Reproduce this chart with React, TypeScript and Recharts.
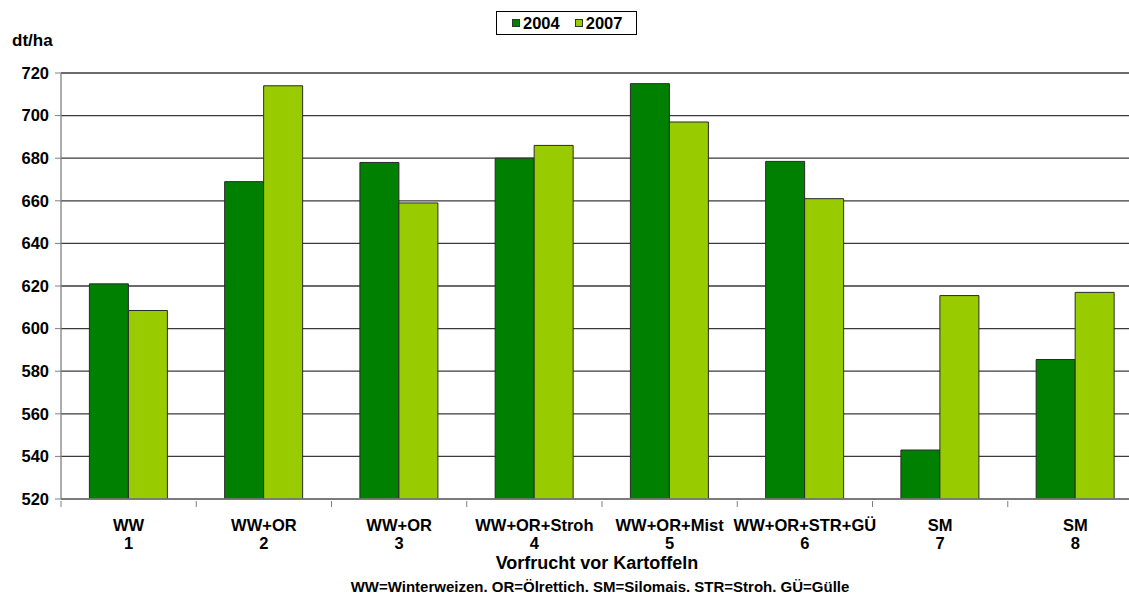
import { BarChart, Bar, XAxis, YAxis, CartesianGrid } from 'recharts'

const categories = ['WW', 'WW+OR', 'WW+OR', 'WW+OR+Stroh', 'WW+OR+Mist', 'WW+OR+STR+GÜ', 'SM', 'SM']
const numbers = ['1', '2', '3', '4', '5', '6', '7', '8']
const yield2004 = [621, 669, 678, 680, 715, 678.5, 543, 585.5]
const yield2007 = [608.5, 714, 659, 686, 697, 661, 615.5, 617]
const yTicks = [520, 540, 560, 580, 600, 620, 640, 660, 680, 700, 720]
const seriesNames = ['2004', '2007']

const FONT = "Arial, 'Liberation Sans', sans-serif"
const DARK = '#008000'
const LIGHT = '#99CC00'
const BAND = 1082 / 8

const data = categories.map((c, i) => ({
  key: i,
  name: c,
  num: numbers[i],
  y2004: yield2004[i],
  y2007: yield2007[i],
}))

const CatTick = (props: any) => {
  const { x, y, payload, index } = props
  const d = data[payload.value]
  return (
    <g>
      {index === 0 && <line x1={x - BAND / 2} x2={x - BAND / 2} y1={y} y2={y + 6} stroke="#808080" />}
      <line x1={x + BAND / 2} x2={x + BAND / 2} y1={y} y2={y + 6} stroke="#808080" />
      <text x={x} y={y + 29.5} textAnchor="middle" fontFamily={FONT} fontWeight="bold" fontSize={16.5} fill="#000">
        {d.name}
      </text>
      <text x={x} y={y + 48} textAnchor="middle" fontFamily={FONT} fontWeight="bold" fontSize={16.5} fill="#000">
        {d.num}
      </text>
    </g>
  )
}

const LegendBox = () => (
  <div
    style={{
      position: 'absolute',
      left: 496,
      top: 11,
      width: 141,
      height: 24,
      border: '1px solid #000',
      boxSizing: 'border-box',
      display: 'flex',
      alignItems: 'center',
      paddingLeft: 15,
      fontFamily: FONT,
      fontWeight: 'bold',
      fontSize: 16.5,
      background: '#fff',
    }}
  >
    {seriesNames.map((t, i) => (
      <span key={t} style={{ display: 'flex', alignItems: 'center', gap: 3, marginRight: i === 0 ? 15 : 0 }}>
        <span style={{ width: 8, height: 8, background: i === 0 ? DARK : LIGHT, border: '1px solid #333', boxSizing: 'border-box', display: 'inline-block' }} />
        {t}
      </span>
    ))}
  </div>
)

export default function App() {
  return (
    <div style={{ position: 'absolute', left: 0, top: 0, width: 1129, height: 597, overflow: 'hidden', background: '#fff' }}>
      <div style={{ position: 'absolute', left: 12, top: 31, fontFamily: FONT, fontWeight: 'bold', fontSize: 17 }}>dt/ha</div>
      <LegendBox />
      <BarChart
        width={1150}
        height={597}
        data={data}
        margin={{ top: 73, right: 7, bottom: 0, left: 0 }}
        barCategoryGap="21%"
        barGap={0}
      >
        <CartesianGrid horizontal vertical={false} stroke="#3a3a3a" strokeWidth={1.3} />
        <XAxis
          dataKey="key"
          type="category"
          tick={<CatTick />}
          tickLine={false}
          tickSize={0}
          interval={0}
          axisLine={{ stroke: '#808080', strokeWidth: 1.3 }}
          height={98}
        />
        <YAxis
          domain={[520, 720]}
          ticks={yTicks}
          interval={0}
          width={61}
          tickSize={6}
          tickMargin={6}
          allowDataOverflow
          axisLine={{ stroke: '#808080', strokeWidth: 1.3 }}
          tickLine={{ stroke: '#808080' }}
          tick={{ fontFamily: FONT, fontWeight: 'bold', fontSize: 16.5, fill: '#000' }}
        />
        <Bar dataKey="y2004" name="2004" fill={DARK} stroke="#2a2a2a" strokeWidth={1} isAnimationActive={false} />
        <Bar dataKey="y2007" name="2007" fill={LIGHT} stroke="#2a2a2a" strokeWidth={1} isAnimationActive={false} />
      </BarChart>
      <div style={{ position: 'absolute', left: 0, width: 1194, top: 553, textAlign: 'center', fontFamily: FONT, fontWeight: 'bold', fontSize: 18 }}>
        Vorfrucht vor Kartoffeln
      </div>
      <div style={{ position: 'absolute', left: 0, width: 1200, top: 578, textAlign: 'center', fontFamily: FONT, fontWeight: 'bold', fontSize: 15 }}>
        WW=Winterweizen. OR=Ölrettich. SM=Silomais. STR=Stroh. GÜ=Gülle
      </div>
    </div>
  )
}
